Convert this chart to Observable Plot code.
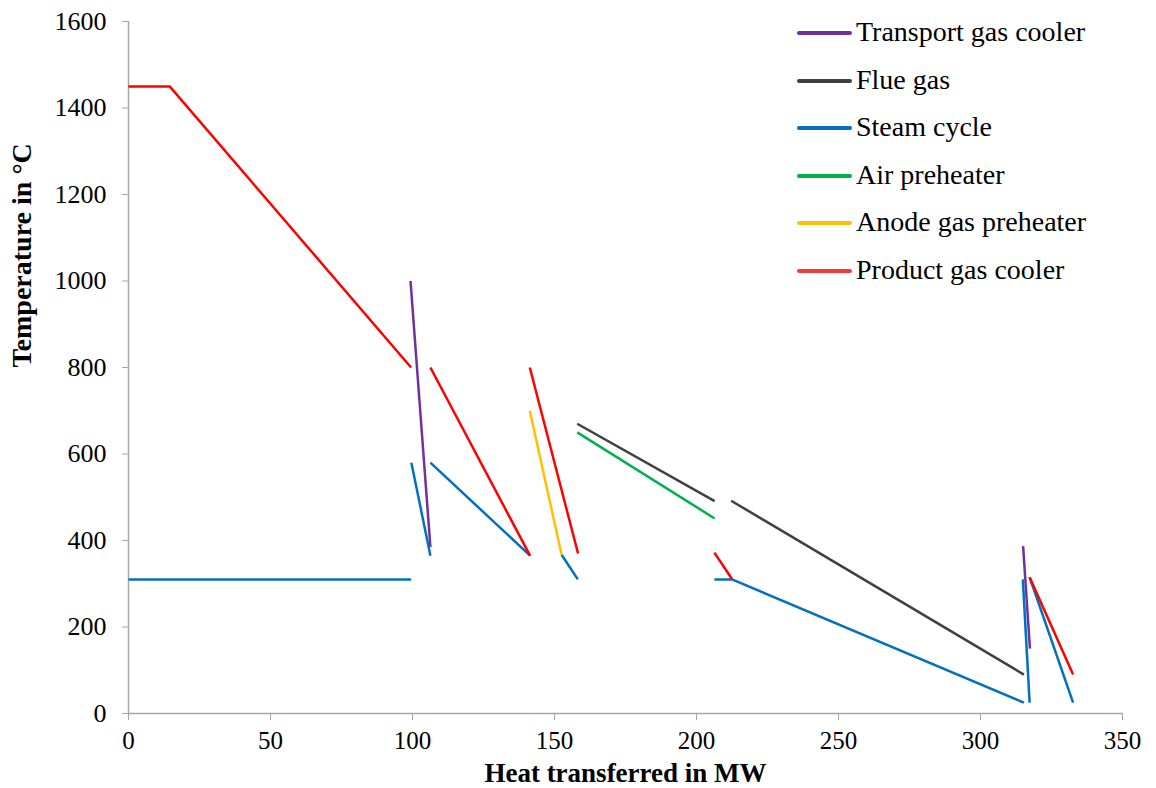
<!DOCTYPE html>
<html>
<head>
<meta charset="utf-8">
<script src="https://cdn.jsdelivr.net/npm/d3@7"></script>
<script src="https://cdn.jsdelivr.net/npm/@observablehq/plot@0.6"></script>
<style>
  body { margin: 0; background: #fff; }
  #wrap { position: relative; width: 1156px; height: 788px; font-family: "Liberation Serif", "Times New Roman", serif; }
  #wrap svg text { font-family: "Liberation Serif", "Times New Roman", serif !important; }
  #legend { position: absolute; left: 797px; top: 10px; }
  .item { position: absolute; left: 0; height: 40px; white-space: nowrap; }
  .swatch { position: absolute; left: 0; width: 55px; height: 4px; border-radius: 2px; }
  .label { position: absolute; left: 59px; font-size: 28px; line-height: 28px; color: #000; font-family: "Liberation Serif", "Times New Roman", serif; }
</style>
</head>
<body>
<div id="wrap"><div id="legend"></div></div>
<script>
// Series names and colours
const seriesNames = ["Transport gas cooler", "Flue gas", "Steam cycle", "Air preheater", "Anode gas preheater", "Product gas cooler"];
const seriesColors = ["#7030A0", "#404040", "#0070C0", "#00B050", "#FFC000", "#FF0000"];
const legendColors = ["#7030A0", "#404040", "#0070C0", "#00B050", "#FFC000", "#EE3A3D"];

// Segments (x = heat transferred MW, y = temperature °C)
const transportGas = [
  [[99.3, 1000], [106.3, 385]],
  [[315.0, 387], [317.4, 150]]
];
const flueGas = [
  [[158.0, 670], [206.4, 491]],
  [[212.2, 492], [315.3, 90]]
];
const steamCycle = [
  [[0, 310], [99.5, 310]],
  [[99.6, 580], [106.3, 365]],
  [[106.3, 580], [141.4, 365]],
  [[152.5, 367], [158.2, 310]],
  [[206.3, 310], [212.5, 310], [315.3, 25]],
  [[314.9, 310], [317.3, 25]],
  [[317.3, 315], [332.6, 25]]
];
const airPreheater = [
  [[158.0, 650], [206.4, 451]]
];
const anodeGas = [
  [[141.3, 700], [152.5, 367]]
];
const productGas = [
  [[0, 1450], [14.5, 1450], [99.5, 800]],
  [[106.3, 800], [141.4, 365]],
  [[141.3, 800], [158.3, 370]],
  [[206.3, 372], [212.5, 311]],
  [[317.3, 315], [332.6, 90]]
];

const xTicks = [0, 50, 100, 150, 200, 250, 300, 350];
const yTicks = [0, 200, 400, 600, 800, 1000, 1200, 1400, 1600];
const xLabel = "Heat transferred in MW";
const yLabel = "Temperature in °C";

const groups = [transportGas, flueGas, steamCycle, airPreheater, anodeGas, productGas];
const rows = [];
let segId = 0;
groups.forEach((g, gi) => {
  g.forEach(seg => {
    seg.forEach(([x, y]) => rows.push({series: seriesNames[gi], seg: segId, x, y}));
    segId++;
  });
});

const gray = "#A6A6A6";
const plot = Plot.plot({
  width: 1156,
  height: 788,
  marginLeft: 128,
  marginRight: 34,
  marginTop: 21,
  marginBottom: 75,
  style: {fontFamily: "'Liberation Serif', 'Times New Roman', serif", fontSize: "25px", color: "#000", background: "#fff"},
  x: {domain: [0, 350]},
  y: {domain: [0, 1600]},
  color: {domain: seriesNames, range: seriesColors},
  marks: [
    Plot.axisX({ticks: xTicks, tickFormat: d3.format("d"), tickSize: 7, tickPadding: 11, stroke: gray, fill: "#000", label: null, fontSize: 25}),
    Plot.axisY({ticks: yTicks, tickFormat: d3.format("d"), tickSize: 6, tickPadding: 16, stroke: gray, fill: "#000", label: null, fontSize: 26}),
    Plot.ruleY([0], {stroke: gray, strokeWidth: 1.5}),
    Plot.ruleX([0], {stroke: gray, strokeWidth: 1.5}),
    Plot.line(rows, {x: "x", y: "y", z: "seg", stroke: "series", strokeWidth: 2.5, strokeLinecap: "butt"}),
    Plot.text([xLabel], {frameAnchor: "bottom", dy: 68, fontWeight: "bold", fontSize: 27, fill: "#000"}),
    Plot.text([yLabel], {frameAnchor: "left", dx: -106, rotate: -90, fontWeight: "bold", fontSize: 28, fill: "#000"})
  ]
});
document.getElementById("wrap").prepend(plot);

const legend = document.getElementById("legend");
seriesNames.forEach((name, i) => {
  const item = document.createElement("div");
  item.className = "item";
  item.style.top = (i * 47.6) + "px";
  item.innerHTML = `<div class="swatch" style="background:${legendColors[i]};top:21px"></div><div class="label" style="top:8px">${name}</div>`;
  legend.appendChild(item);
});
</script>
</body>
</html>
